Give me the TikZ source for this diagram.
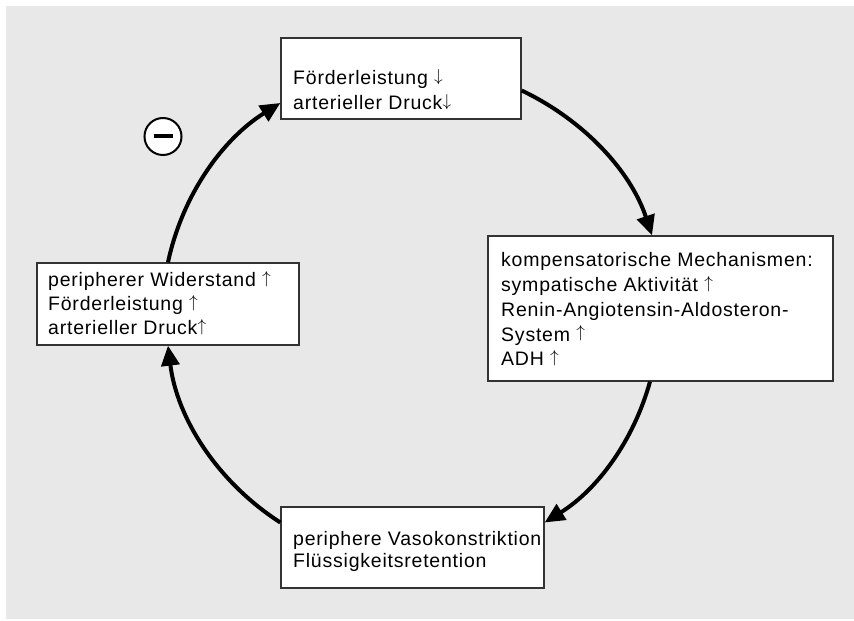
\documentclass[tikz,border=0pt]{standalone}
\usepackage{fontspec}
\setmainfont{Liberation Sans}[LetterSpace=4.0]
\usetikzlibrary{arrows.meta}
\definecolor{bg}{HTML}{E8E8E8}
\definecolor{boxline}{HTML}{333333}
\newcommand{\myup}{\raisebox{3.3pt}{\fontsize{17pt}{17pt}\selectfont$\uparrow$}}
\newcommand{\mydown}{\raisebox{3.3pt}{\fontsize{17pt}{17pt}\selectfont$\downarrow$}}
\begin{document}
\begin{tikzpicture}[x=1pt,y=1pt,
  box/.style={draw=boxline,line width=1.3pt,fill=white,rectangle,inner sep=0pt},
  txt/.style={anchor=base west,inner sep=0pt,align=left,font=\fontsize{19.5pt}{24.6pt}\selectfont},
  flow/.style={line width=4pt,-{Triangle[length=20pt,width=18pt]},looseness=0.9},
  minusmark/.style={circle,draw=black,line width=2pt,fill=white,minimum size=37pt,inner sep=0pt}]
\useasboundingbox (0,0) rectangle (854,621);
\fill[white] (0,0) rectangle (854,621);
\fill[bg] (6,2) rectangle (854,615);

\node[box,minimum width=240pt,minimum height=81pt] (T) at (401,542.5) {};
\node[box,minimum width=345pt,minimum height=145pt] (R) at (660.5,312.5) {};
\node[box,minimum width=262pt,minimum height=82pt] (L) at (168,317) {};
\node[box,minimum width=263pt,minimum height=81pt] (B) at (412.5,73.5) {};

\node[txt,font=\fontsize{19.5pt}{25pt}\selectfont] (Ttxt) at (293,511) {Förderleistung \mydown\\arterieller Druck\mydown};
\node[txt,font=\fontsize{19.5pt}{24.8pt}\selectfont] (Rtxt) at (501,255) {kompensatorische Mechanismen:\\sympatische Aktivität \myup\\Renin-Angiotensin-Aldosteron-\\System \myup\\ADH \myup};
\node[txt,font=\fontsize{19.5pt}{24.2pt}\selectfont] (Ltxt) at (48,286) {peripherer Widerstand \myup\\Förderleistung \myup\\arterieller Druck\myup};
\node[txt,font=\fontsize{19.5pt}{22.8pt}\selectfont] (Btxt) at (293,53) {periphere Vasokonstriktion\\Flüssigkeitsretention};

\node[minusmark] (minus) at (163,484.5) {};
\draw[line width=4pt] ([xshift=-9.5pt]minus.center) -- ([xshift=9.5pt]minus.center);

\draw[flow] (L.north) to[out=78,in=212] ([yshift=-24.5pt]T.west);
\draw[flow] ([yshift=-12pt]T.east) to[out=-25.5,in=108.4] ([xshift=-8.5pt]R.north);
\draw[flow] ([xshift=-10.5pt]R.south) to[out=254.4,in=32] ([yshift=25pt]B.east);
\draw[flow] ([yshift=25pt]B.west) to[out=147.3,in=277] (L.south);
\end{tikzpicture}
\end{document}
